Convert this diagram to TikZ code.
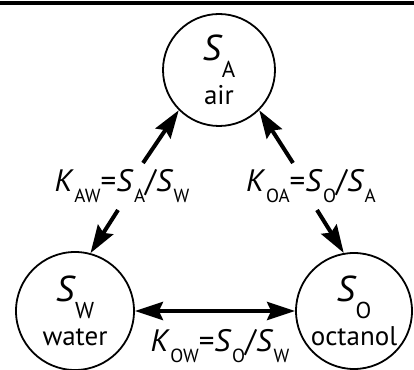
\documentclass[tikz,border=0pt]{standalone}
\usepackage{fontspec}
\setmainfont{PT Sans}
\usetikzlibrary{arrows.meta,positioning}
\newcommand{\phsym}[2]{{\fontsize{36}{36}\selectfont\itshape #1}\kern1pt\raisebox{-17pt}{\fontsize{23}{23}\selectfont #2}}
\newcommand{\kcoef}[2]{{\fontsize{31}{31}\selectfont\itshape #1}\kern2pt\raisebox{-11pt}{\fontsize{19}{19}\selectfont #2}}
\tikzset{
  phaseNode/.style={circle,draw,line width=1.8pt,minimum size=#1,inner sep=0pt,
                    align=center,font=\fontsize{27}{44}\selectfont},
  partArrow/.style={line width=4pt,#1},
  ratioLbl/.style={anchor=base,inner sep=0pt,font=\fontsize{31}{31}\selectfont},
  >={Stealth[length=28pt,width=18pt,inset=4pt]},
}
\begin{document}
\begin{tikzpicture}[x=1pt,y=1pt]
  \useasboundingbox (0,0) rectangle (414,369);
  \fill (0,364) rectangle (414,368);
  % the three phases
  \node[phaseNode=112pt](air) at (219,299){\phsym{S}{A}\\air};
  \node[phaseNode=118pt](water) at (75,58){\phsym{S}{W}\\water};
  \node[phaseNode=116pt](octanol) at (354,58){\phsym{S}{O}\\octanol};
  % tails of the partition arrows
  \coordinate (aw1) at (143,206);
  \coordinate (aw2) at (118,159);
  \coordinate (oa1) at (293,206);
  \coordinate (oa2) at (317,159);
  \foreach \x/\y in {aw1/air.225,aw2/water.75,oa1/air.-45,oa2/octanol.100}{\draw[partArrow=->](\x)--(\y);}
  \draw[partArrow=<->](water.east)--(octanol.west);
  % partition coefficients
  \node[ratioLbl](kaw) at (122,177){\kcoef{K}{AW}=\kcoef{S}{A}/\kcoef{S}{W}};
  \node[ratioLbl](koa) at (311,177){\kcoef{K}{OA}=\kcoef{S}{O}/\kcoef{S}{A}};
  \node[ratioLbl](kow) at (220,18){\kcoef{K}{OW}=\kcoef{S}{O}/\kcoef{S}{W}};
\end{tikzpicture}
\end{document}
